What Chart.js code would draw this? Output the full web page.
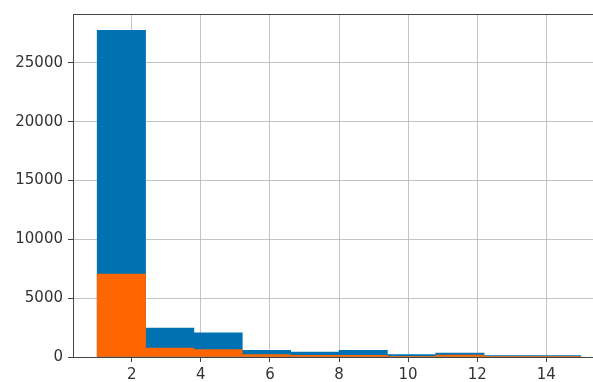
<!DOCTYPE html>
<html>
<head>
<meta charset="utf-8">
<script src="https://cdn.jsdelivr.net/npm/chart.js@4/dist/chart.umd.min.js"></script>
<style>
  html, body { margin: 0; padding: 0; background: #fff; }
  #wrap { width: 593px; height: 382px; overflow: hidden; position: relative; }
  canvas { display: block; }
</style>
</head>
<body>
<div id="wrap"><canvas id="hist" width="605" height="382"></canvas></div>
<script>
// bin edges of the histogram (10 bins from 1 to 15)
var binEdges = [1, 2.4, 3.8, 5.2, 6.6, 8.0, 9.4, 10.8, 12.2, 13.6, 15];
// counts per bin
var blueCounts = [27760, 2450, 2060, 560, 420, 560, 200, 340, 120, 120];
var orangeCounts = [7050, 760, 620, 200, 150, 150, 50, 170, 30, 30];
var xTicks = [2, 4, 6, 8, 10, 12, 14];
var yTicks = [0, 5000, 10000, 15000, 20000, 25000];

function toPoints(counts) {
    var pts = [];
    for (var i = 0; i < counts.length; i++) {
        pts.push({ x: (binEdges[i] + binEdges[i + 1]) / 2, y: counts[i] });
    }
    return pts;
}

// frame round the plot area, like the matplotlib spines
var frame = {
    id: 'frame',
    afterDraw: function(chart) {
        var a = chart.chartArea, c = chart.ctx;
        c.save();
        c.strokeStyle = '#444';
        c.lineWidth = 1;
        c.strokeRect(Math.round(a.left) + 0.5, Math.round(a.top) + 0.5,
            Math.round(a.right - a.left), Math.round(a.bottom - a.top));
        c.restore();
    }
};

var gridColor = 'rgba(176,176,176,0.75)';
var tickFont = { family: 'DejaVu Sans', size: 15 };

var chart = new Chart(document.getElementById('hist'), {
    type: 'bar',
    data: {
        datasets: [{
            // orange first so it sits on top of the blue bars
            data: toPoints(orangeCounts),
            backgroundColor: '#ff6600',
            borderWidth: 0
        }, {
            data: toPoints(blueCounts),
            backgroundColor: '#0072b2',
            borderWidth: 0
        }]
    },
    options: {
        responsive: false,
        animation: false,
        grouped: false,
        barPercentage: 1,
        categoryPercentage: 1,
        layout: { padding: { top: 11, right: 0, left: 0, bottom: 0 } },
        plugins: { legend: { display: false }, tooltip: { enabled: false } },
        scales: {
            x: {
                type: 'linear',
                offset: false,
                min: 0.3,
                max: 15.7,
                z: 1,
                afterFit: function(s) { s.height = 25; },
                afterBuildTicks: function(s) { s.ticks = xTicks.map(function(v) { return { value: v }; }); },
                grid: { offset: false, color: gridColor, lineWidth: 1, tickColor: '#444', tickLength: 5 },
                border: { display: false },
                ticks: { color: '#333', font: tickFont, padding: 4, maxRotation: 0,
                    callback: function(v) { return String(v); } }
            },
            y: {
                min: 0,
                max: 29150,
                z: 1,
                afterFit: function(s) { s.width = 73; },
                afterBuildTicks: function(s) { s.ticks = yTicks.map(function(v) { return { value: v }; }); },
                grid: { color: gridColor, lineWidth: 1, tickColor: '#444', tickLength: 5 },
                border: { display: false },
                ticks: { color: '#333', font: tickFont, padding: 5,
                    callback: function(v) { return String(v); } }
            }
        }
    },
    plugins: [frame]
});
</script>
</body>
</html>
